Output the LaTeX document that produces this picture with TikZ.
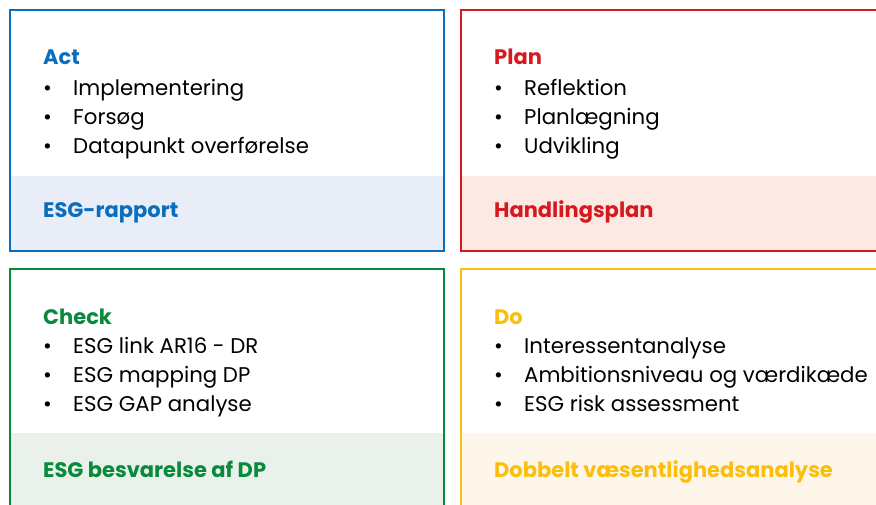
\documentclass[tikz,border=0pt]{standalone}
\usepackage{fontspec}
\setmainfont{Poppins}
\definecolor{cblue}{HTML}{0A6EBD}
\definecolor{cred}{HTML}{D7191F}
\definecolor{cgreen}{HTML}{078A3C}
\definecolor{cyellow}{HTML}{FBBE0B}
\definecolor{fblue}{HTML}{E8EDF8}
\definecolor{fred}{HTML}{FCE9E4}
\definecolor{fgreen}{HTML}{EAF0EA}
\definecolor{fyellow}{HTML}{FEF6EA}
\begin{document}
\begin{tikzpicture}[x=1pt,y=-1pt,
  frame/.style={line width=2.6pt},
  head/.style={anchor=base west,font=\fontsize{21}{24}\selectfont\bfseries,inner sep=0pt},
  item/.style={anchor=base west,font=\fontsize{21.3}{24}\selectfont,inner sep=0pt,text=black},
  dot/.style={anchor=base west,font=\fontsize{21.3}{24}\selectfont,inner sep=0pt,text=black}]
\useasboundingbox (0,0) rectangle (876,504);
\clip (0,0) rectangle (876,504);
% fills
\fill[fblue] (10,176) rectangle (444,251);
\fill[fred] (461,176) rectangle (890,251);
\fill[fgreen] (10,433) rectangle (444,520);
\fill[fyellow] (461,433) rectangle (890,520);
% frames
\draw[frame,cblue] (10,10) rectangle (444,251);
\draw[frame,cred] (461,10) rectangle (890,251);
\draw[frame,cgreen] (10,269) rectangle (444,520);
\draw[frame,cyellow] (461,269) rectangle (890,520);
% Act
\node[head,text=cblue] (acth) at (43,64) {Act};
\foreach \t/\y [count=\i] in {Implementering/95,Forsøg/124,Datapunkt overførelse/153}{
  \node[dot] (actb\i) at (43,\y) {•};
  \node[item] (acti\i) at (73,\y) {\t};
}
\node[head,text=cblue] (actf) at (43,217.5) {ESG-rapport};
% Plan
\node[head,text=cred] (planh) at (494,64) {Plan};
\foreach \t/\y [count=\i] in {Reflektion/95,Planlægning/124,Udvikling/153}{
  \node[dot] (planb\i) at (494,\y) {•};
  \node[item] (plani\i) at (524,\y) {\t};
}
\node[head,text=cred] (planf) at (494,217.5) {Handlingsplan};
% Check
\node[head,text=cgreen] (checkh) at (43,324) {Check};
\foreach \t/\y [count=\i] in {ESG link AR16 - DR/353,ESG mapping DP/382,ESG GAP analyse/411}{
  \node[dot] (checkb\i) at (43,\y) {•};
  \node[item] (checki\i) at (73,\y) {\t};
}
\node[head,text=cgreen] (checkf) at (43,477) {ESG besvarelse af DP};
% Do
\node[head,text=cyellow] (doh) at (494,324) {Do};
\foreach \t/\y [count=\i] in {Interessentanalyse/353,Ambitionsniveau og værdikæde/382,ESG risk assessment/411}{
  \node[dot] (dob\i) at (494,\y) {•};
  \node[item] (doi\i) at (524,\y) {\t};
}
\node[head,text=cyellow] (dof) at (494,477) {Dobbelt væsentlighedsanalyse};
\end{tikzpicture}
\end{document}
